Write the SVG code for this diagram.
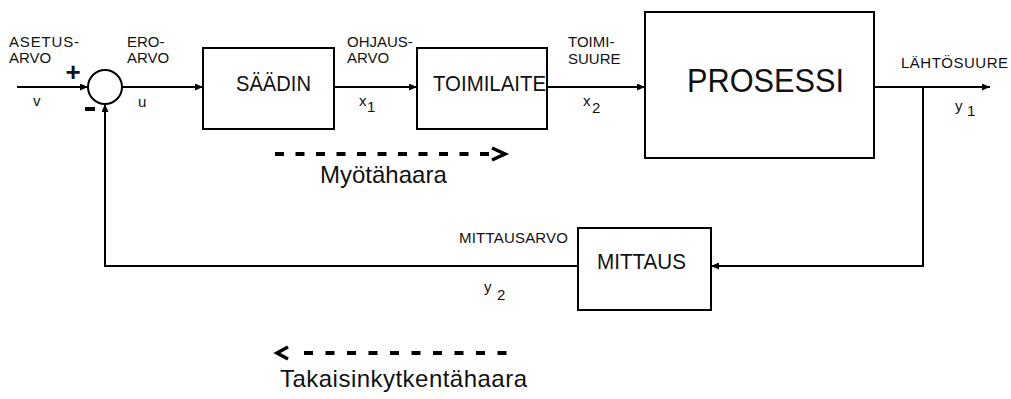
<svg xmlns="http://www.w3.org/2000/svg" width="1011" height="399" viewBox="0 0 1011 399">
  <style>
    .box { fill: #ffffff; stroke: #000000; stroke-width: 2; }
    .wire { fill: none; stroke: #000000; stroke-width: 2; }
    .dash { fill: none; stroke: #000000; stroke-width: 4; }
    .chev { fill: none; stroke: #000000; stroke-width: 3.5; stroke-linejoin: miter; }
    text { font-family: "Liberation Sans", Arial, sans-serif; fill: #111111; }
    .sm { font-size: 15px; }
    .md { font-size: 22px; }
    .lg { font-size: 33px; }
    .cap { font-size: 24px; }
    .sign { font-size: 26px; font-weight: bold; }
  </style>
  <defs>
    <marker id="arr" markerUnits="userSpaceOnUse" markerWidth="8" markerHeight="7" refX="8" refY="3.5" orient="auto">
      <path d="M0,0 L8,3.5 L0,7 z" fill="#000000"/>
    </marker>
  </defs>

  <!-- connectors -->
  <g id="connectors">
    <line class="wire" x1="17" y1="87" x2="88" y2="87" marker-end="url(#arr)"/>
    <line class="wire" x1="122" y1="87" x2="203" y2="87" marker-end="url(#arr)"/>
    <line class="wire" x1="334" y1="87" x2="417" y2="87" marker-end="url(#arr)"/>
    <line class="wire" x1="547" y1="87" x2="645" y2="87" marker-end="url(#arr)"/>
    <line class="wire" x1="874" y1="87" x2="990" y2="87" marker-end="url(#arr)"/>
    <polyline class="wire" points="923,87 923,266 711,266" marker-end="url(#arr)"/>
    <polyline class="wire" points="578,266 105,266 105,104" marker-end="url(#arr)"/>
  </g>

  <!-- summing junction -->
  <g id="sum">
    <circle class="box" cx="105" cy="87" r="17"/>
    <text class="sign" x="73" y="81" text-anchor="middle">+</text>
    <rect x="85" y="107" width="10" height="4" fill="#000000"/>
  </g>

  <g id="saadin">
    <rect class="box" x="203" y="48" width="131" height="81"/>
    <text class="md" x="236" y="91" textLength="75" lengthAdjust="spacingAndGlyphs">SÄÄDIN</text>
  </g>

  <g id="toimilaite">
    <rect class="box" x="417" y="48" width="130" height="81"/>
    <text class="md" x="433" y="91" textLength="113" lengthAdjust="spacingAndGlyphs">TOIMILAITE</text>
  </g>

  <g id="prosessi">
    <rect class="box" x="645" y="12" width="229" height="146"/>
    <text class="lg" x="687" y="92" textLength="157" lengthAdjust="spacingAndGlyphs">PROSESSI</text>
  </g>

  <g id="mittaus">
    <rect class="box" x="578" y="228" width="133" height="82"/>
    <text class="md" x="597" y="269" textLength="89" lengthAdjust="spacingAndGlyphs">MITTAUS</text>
  </g>

  <!-- signal labels -->
  <g id="labels">
    <text class="sm" x="9" y="47" textLength="70">ASETUS-</text>
    <text class="sm" x="9" y="63">ARVO</text>
    <text class="sm" x="33" y="106">v</text>
    <text class="sm" x="127" y="47">ERO-</text>
    <text class="sm" x="127" y="63">ARVO</text>
    <text class="sm" x="138" y="107">u</text>
    <text class="sm" x="347" y="47">OHJAUS-</text>
    <text class="sm" x="347" y="63">ARVO</text>
    <text class="sm" x="359" y="106">x</text>
    <text class="sm" x="367" y="112">1</text>
    <text class="sm" x="568" y="47">TOIMI-</text>
    <text class="sm" x="568" y="64">SUURE</text>
    <text class="sm" x="583" y="106">x</text>
    <text class="sm" x="592" y="113">2</text>
    <text class="sm" x="901" y="68" textLength="107">LÄHTÖSUURE</text>
    <text class="sm" x="955" y="111">y</text>
    <text class="sm" x="967" y="116">1</text>
    <text class="sm" x="459" y="243" textLength="109">MITTAUSARVO</text>
    <text class="sm" x="484" y="292">y</text>
    <text class="sm" x="497" y="300">2</text>
  </g>

  <!-- forward path indicator -->
  <g id="myotahaara">
    <line class="dash" x1="275" y1="154" x2="489" y2="154" stroke-dasharray="9 11.5"/>
    <polyline class="chev" points="492,148 505,154 492,160"/>
    <text class="cap" x="320" y="183">Myötähaara</text>
  </g>

  <!-- feedback path indicator -->
  <g id="takaisinkytkentahaara">
    <line class="dash" x1="304" y1="353" x2="507" y2="353" stroke-dasharray="9 12.5"/>
    <polyline class="chev" points="288,347 277,353 288,359"/>
    <text class="cap" x="280" y="387" textLength="247">Takaisinkytkentähaara</text>
  </g>
</svg>
